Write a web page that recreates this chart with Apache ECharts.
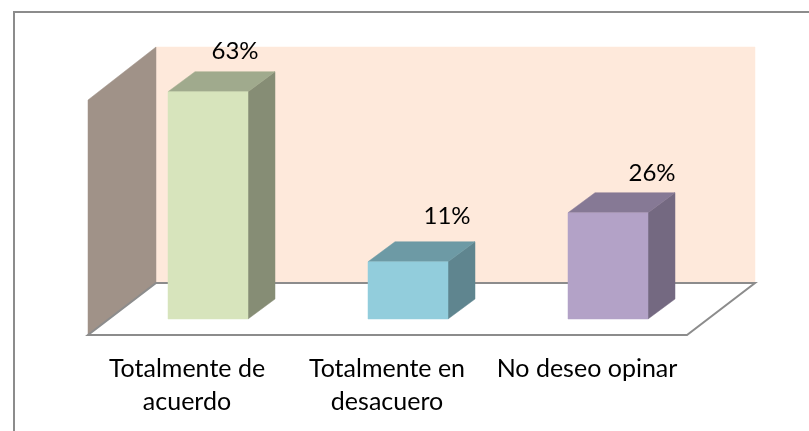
<!DOCTYPE html>
<html><head><meta charset="utf-8">
<style>html,body{margin:0;padding:0;background:#fff}#c{width:809px;height:431px}</style>
<script src="https://cdn.jsdelivr.net/npm/echarts@6/dist/echarts.min.js"></script>
</head><body><div id="c"></div>
<script>
const categories = ['Totalmente de\nacuerdo', 'Totalmente en\ndesacuero', 'No deseo opinar'];
const values = [63, 11, 26];
const frontColors = ['#D7E4BC', '#92CDDC', '#B3A2C7'];
const topColors = ['#A0AA8D', '#6D9AA5', '#867995'];
const sideColors = ['#868D75', '#5F858F', '#746981'];
const labelShift = [[27, -20], [39, -25], [44, -19]];

const DX = 27, DY = -20, BAR_W = 80, AXIS_MIN = -6.5;
const chart = echarts.init(document.getElementById('c'), null, {renderer: 'canvas'});
const poly = (pts, fill, stroke) => ({type: 'polygon', shape: {points: pts}, style: {fill, stroke: stroke || fill, lineWidth: stroke ? 2 : 0.5}});

chart.setOption({
  animation: false,
  backgroundColor: '#fff',
  graphic: [
    {type: 'rect', z: -10, shape: {x: 14, y: 12, width: 820, height: 440}, style: {fill: '#fff', stroke: '#8C8C8C', lineWidth: 2}},
    poly([[156,47],[755,47],[755,283],[156,283]], '#FEE9DB'),
    poly([[88,100],[156,47],[156,283],[88,335]], '#A09288'),
    {type: 'polygon', shape: {points: [[88,335],[687,335],[755,283],[156,283]]}, style: {fill: '#fff', stroke: '#8C8C8C', lineWidth: 2}}
  ].map(g => Object.assign({z: -10}, g)),
  grid: {left: 108, width: 600, top: 68.8, height: 250.2},
  xAxis: {
    type: 'category', data: categories,
    axisLine: {show: false}, axisTick: {show: false},
    axisLabel: {fontFamily: 'Lato', fontSize: 25, color: '#000', lineHeight: 33, margin: 33, interval: 0, padding: [0, 42, 0, 0]}
  },
  yAxis: {type: 'value', min: AXIS_MIN, max: 70, show: false, splitLine: {show: false}},
  series: [{
    type: 'custom',
    encode: {x: 0, y: 1},
    data: values.map((v, i) => [i, v]),
    renderItem(params, api) {
      const i = api.value(0), v = api.value(1);
      const top = api.coord([i, v]);
      const base = api.coord([i, AXIS_MIN]);
      const x0 = top[0] - BAR_W / 2, x1 = top[0] + BAR_W / 2, yt = top[1], yb = base[1];
      return {type: 'group', children: [
        poly([[x1,yt],[x1+DX,yt+DY],[x1+DX,yb+DY],[x1,yb]], sideColors[i]),
        poly([[x0,yt],[x0+DX,yt+DY],[x1+DX,yt+DY],[x1,yt]], topColors[i]),
        poly([[x0,yt],[x1,yt],[x1,yb],[x0,yb]], frontColors[i]),
        {type: 'text', style: {
          x: top[0] + labelShift[i][0], y: yt + DY + labelShift[i][1],
          text: v + '%', font: '24px Lato', fill: '#000', align: 'center', verticalAlign: 'middle'
        }}
      ]};
    }
  }]
});
</script></body></html>
